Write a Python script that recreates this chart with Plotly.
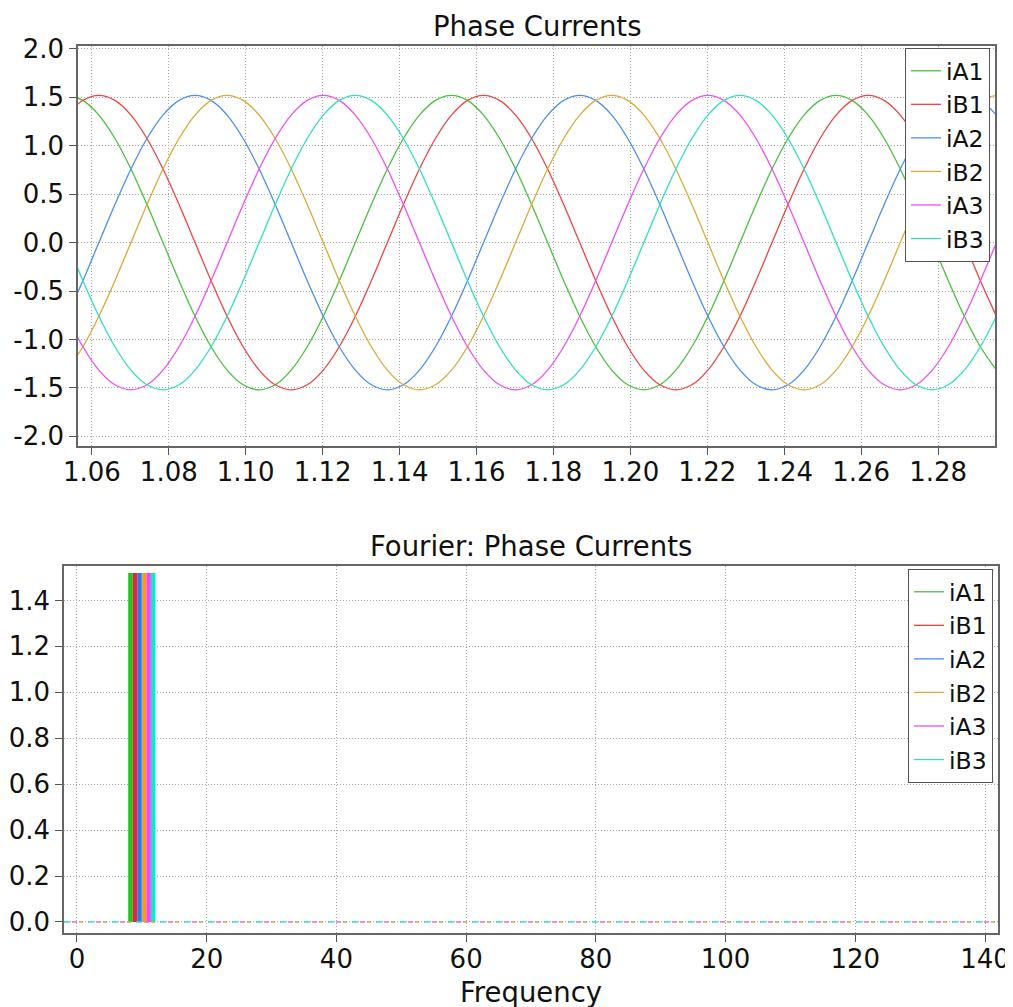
import plotly.graph_objects as go

# ---------------- data ----------------
time_s = [1.0535, 1.05767, 1.06183, 1.06600, 1.07017, 1.07433, 1.07850, 1.08267, 1.08683, 1.09100,
          1.09517, 1.09933, 1.10350, 1.10767, 1.11183, 1.11600, 1.12017, 1.12433, 1.12850, 1.13267,
          1.13683, 1.14100, 1.14517, 1.14933, 1.15350, 1.15767, 1.16183, 1.16600, 1.17017, 1.17433,
          1.17850, 1.18267, 1.18683, 1.19100, 1.19517, 1.19933, 1.20350, 1.20767, 1.21183, 1.21600,
          1.22017, 1.22433, 1.22850, 1.23267, 1.23683, 1.24100, 1.24517, 1.24933, 1.25350, 1.25767,
          1.26183, 1.26600, 1.27017, 1.27433, 1.27850, 1.28267, 1.28683, 1.29100, 1.29517]

iA1 = [1.52, 1.468, 1.316, 1.075, 0.76, 0.393, 0.0, -0.393, -0.76, -1.075, -1.316, -1.468,
       -1.52, -1.468, -1.316, -1.075, -0.76, -0.393, 0.0, 0.393, 0.76, 1.075, 1.316, 1.468,
       1.52, 1.468, 1.316, 1.075, 0.76, 0.393, 0.0, -0.393, -0.76, -1.075, -1.316, -1.468,
       -1.52, -1.468, -1.316, -1.075, -0.76, -0.393, 0.0, 0.393, 0.76, 1.075, 1.316, 1.468,
       1.52, 1.468, 1.316, 1.075, 0.76, 0.393, 0.0, -0.393, -0.76, -1.075, -1.316]

iB1 = [1.316, 1.468,
       1.52, 1.468, 1.316, 1.075, 0.76, 0.393, 0.0, -0.393, -0.76, -1.075, -1.316, -1.468,
       -1.52, -1.468, -1.316, -1.075, -0.76, -0.393, 0.0, 0.393, 0.76, 1.075, 1.316, 1.468,
       1.52, 1.468, 1.316, 1.075, 0.76, 0.393, 0.0, -0.393, -0.76, -1.075, -1.316, -1.468,
       -1.52, -1.468, -1.316, -1.075, -0.76, -0.393, 0.0, 0.393, 0.76, 1.075, 1.316, 1.468,
       1.52, 1.468, 1.316, 1.075, 0.76, 0.393, 0.0, -0.393, -0.76]

iA2 = [-0.76, -0.393, 0.0, 0.393, 0.76, 1.075, 1.316, 1.468,
       1.52, 1.468, 1.316, 1.075, 0.76, 0.393, 0.0, -0.393, -0.76, -1.075, -1.316, -1.468,
       -1.52, -1.468, -1.316, -1.075, -0.76, -0.393, 0.0, 0.393, 0.76, 1.075, 1.316, 1.468,
       1.52, 1.468, 1.316, 1.075, 0.76, 0.393, 0.0, -0.393, -0.76, -1.075, -1.316, -1.468,
       -1.52, -1.468, -1.316, -1.075, -0.76, -0.393, 0.0, 0.393, 0.76, 1.075, 1.316, 1.468,
       1.52, 1.468, 1.316]

iB2 = [-1.316, -1.075, -0.76, -0.393, 0.0, 0.393, 0.76, 1.075, 1.316, 1.468,
       1.52, 1.468, 1.316, 1.075, 0.76, 0.393, 0.0, -0.393, -0.76, -1.075, -1.316, -1.468,
       -1.52, -1.468, -1.316, -1.075, -0.76, -0.393, 0.0, 0.393, 0.76, 1.075, 1.316, 1.468,
       1.52, 1.468, 1.316, 1.075, 0.76, 0.393, 0.0, -0.393, -0.76, -1.075, -1.316, -1.468,
       -1.52, -1.468, -1.316, -1.075, -0.76, -0.393, 0.0, 0.393, 0.76, 1.075, 1.316, 1.468,
       1.52]

iA3 = [-0.76, -1.075, -1.316, -1.468, -1.52, -1.468, -1.316, -1.075, -0.76, -0.393, 0.0, 0.393,
       0.76, 1.075, 1.316, 1.468,
       1.52, 1.468, 1.316, 1.075, 0.76, 0.393, 0.0, -0.393, -0.76, -1.075, -1.316, -1.468,
       -1.52, -1.468, -1.316, -1.075, -0.76, -0.393, 0.0, 0.393, 0.76, 1.075, 1.316, 1.468,
       1.52, 1.468, 1.316, 1.075, 0.76, 0.393, 0.0, -0.393, -0.76, -1.075, -1.316, -1.468,
       -1.52, -1.468, -1.316, -1.075, -0.76, -0.393, 0.0]

iB3 = [0.0, -0.393, -0.76, -1.075, -1.316, -1.468, -1.52, -1.468, -1.316, -1.075, -0.76, -0.393,
       0.0, 0.393, 0.76, 1.075, 1.316, 1.468,
       1.52, 1.468, 1.316, 1.075, 0.76, 0.393, 0.0, -0.393, -0.76, -1.075, -1.316, -1.468,
       -1.52, -1.468, -1.316, -1.075, -0.76, -0.393, 0.0, 0.393, 0.76, 1.075, 1.316, 1.468,
       1.52, 1.468, 1.316, 1.075, 0.76, 0.393, 0.0, -0.393, -0.76, -1.075, -1.316, -1.468,
       -1.52, -1.468, -1.316, -1.075, -0.76]

series_names = ["iA1", "iB1", "iA2", "iB2", "iA3", "iB3"]
series_values = [iA1, iB1, iA2, iB2, iA3, iB3]

# Fourier spectrum: fundamental frequency and amplitude of each phase current
fourier_freq = [10]
fourier_amp = {"iA1": [1.52], "iB1": [1.52], "iA2": [1.52],
               "iB2": [1.52], "iA3": [1.52], "iB3": [1.52]}

top_xticks = [1.06, 1.08, 1.10, 1.12, 1.14, 1.16, 1.18, 1.20, 1.22, 1.24, 1.26, 1.28]
top_yticks = [-2.0, -1.5, -1.0, -0.5, 0.0, 0.5, 1.0, 1.5, 2.0]
bot_xticks = [0, 20, 40, 60, 80, 100, 120, 140]
bot_yticks = [0.0, 0.2, 0.4, 0.6, 0.8, 1.0, 1.2, 1.4]

# ---------------- style ----------------
OFF = 8                      # page body margin in the browser
W, H = 1013 - OFF, 1007 - OFF
FONT = "DejaVu Sans"
TICK = 26
TITLE = 27.5
LEG = 23.5
line_colors = ["#4cc040", "#f04444", "#4d8ff0", "#d9ab3a", "#f050f0", "#30e0c0"]
bar_colors = ["#22c422", "#ee2233", "#2a78f0", "#f0a020", "#ff40ff", "#10e8c8"]


def px_x(p):
    return (p - OFF) / W


def px_y(p):
    return 1 - (p - OFF) / H


fig = go.Figure()

for name, vals, col in zip(series_names, series_values, line_colors):
    fig.add_trace(go.Scatter(
        x=time_s, y=vals, name=name, mode="lines",
        line=dict(color=col, width=1.3, shape="spline", smoothing=1.0),
        xaxis="x", yaxis="y", legend="legend",
    ))

bar_w = 0.7
n = len(series_names)
for i, (name, col, lcol) in enumerate(zip(series_names, bar_colors, line_colors)):
    fig.add_trace(go.Bar(
        x=fourier_freq, y=fourier_amp[name], name=name,
        marker=dict(color=col, line=dict(width=0)),
        width=bar_w, offset=-n * bar_w / 2 + i * bar_w,
        xaxis="x2", yaxis="y2", legend="legend2", showlegend=False,
    ))
    fig.add_trace(go.Scatter(
        x=[None], y=[None], name=name, mode="lines",
        line=dict(color=lcol, width=1.3),
        xaxis="x2", yaxis="y2", legend="legend2",
    ))

axis_common = dict(
    showline=True, linecolor="#666666", linewidth=1.5, mirror=True,
    ticks="outside", ticklen=7, tickcolor="#555555", tickwidth=1.3,
    showgrid=True, gridcolor="#a8a8a8", gridwidth=1, griddash="1px,2px",
    zeroline=False, automargin=False, ticklabeloverflow="allow",
    tickfont=dict(family=FONT, size=TICK, color="#111111"),
)

fig.update_layout(
    width=W, height=H,
    margin=dict(l=0, r=0, t=0, b=0, autoexpand=False),
    paper_bgcolor="white", plot_bgcolor="white",
    font=dict(family=FONT, size=TICK, color="#111111"),
    barmode="overlay",
    xaxis=dict(domain=[px_x(78), px_x(995)], anchor="y", range=[1.0564, 1.2948],
               tickvals=top_xticks, ticktext=[f"{v:.2f}" for v in top_xticks],
               ticklabelstandoff=-5, **axis_common),
    yaxis=dict(domain=[px_y(446), px_y(46)], anchor="x", range=[-2.10, 2.03],
               tickvals=top_yticks, ticktext=[f"{v:.1f}" for v in top_yticks], **axis_common),
    xaxis2=dict(domain=[px_x(64), px_x(998)], anchor="y2", range=[-2.0, 142.0],
                tickvals=bot_xticks, ticktext=[str(v) for v in bot_xticks],
                ticklabelstandoff=-5, **axis_common),
    yaxis2=dict(domain=[px_y(933), px_y(566)], anchor="x2", range=[-0.048, 1.55],
                tickvals=bot_yticks, ticktext=[f"{v:.1f}" for v in bot_yticks], **axis_common),
    legend=dict(x=px_x(990), y=px_y(48), xanchor="right", yanchor="top",
                bgcolor="white", bordercolor="#555555", borderwidth=1,
                font=dict(family=FONT, size=LEG, color="#111111"),
                itemwidth=30, tracegroupgap=0),
    legend2=dict(x=px_x(993), y=px_y(569), xanchor="right", yanchor="top",
                 bgcolor="white", bordercolor="#555555", borderwidth=1,
                 font=dict(family=FONT, size=LEG, color="#111111"),
                 itemwidth=30, tracegroupgap=0),
    showlegend=True,
)

# zero baseline of the spectrum (multicoloured dash-dot look)
for col, pat in [("#40d8d8", "6px,18px"), ("#f070c0", "0px,8px,5px,11px"), ("#c8a848", "0px,15px,4px,5px")]:
    fig.add_shape(type="line", xref="x2 domain", yref="y2", x0=0, x1=1, y0=0, y1=0,
                  line=dict(color=col, width=1.5, dash=pat), layer="above")

fig.add_annotation(text="Phase Currents", xref="paper", yref="paper",
                   x=px_x(536.5), y=px_y(26), xanchor="center", yanchor="middle",
                   showarrow=False, font=dict(family=FONT, size=TITLE, color="#111111"))
fig.add_annotation(text="Fourier: Phase Currents", xref="paper", yref="paper",
                   x=px_x(531), y=px_y(546), xanchor="center", yanchor="middle",
                   showarrow=False, font=dict(family=FONT, size=TITLE, color="#111111"))
fig.add_annotation(text="Frequency", xref="paper", yref="paper",
                   x=px_x(531), y=px_y(992), xanchor="center", yanchor="middle",
                   showarrow=False, font=dict(family=FONT, size=TITLE, color="#111111"))

fig.write_html("out.html")
